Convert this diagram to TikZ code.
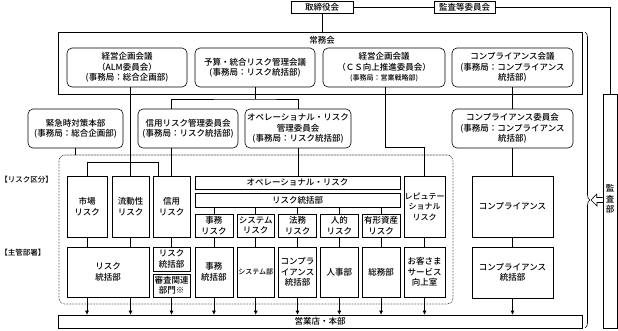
\documentclass[tikz,border=0pt]{standalone}
\usepackage{fontspec}
\setmainfont{Noto Sans CJK JP}[UprightFont={* Medium}]
\usetikzlibrary{arrows.meta, calc, decorations.pathreplacing}

\begin{document}
\begin{tikzpicture}[
        x=1pt, y=-1pt,
        line width=0.6pt,
        font=\fontsize{8.5}{10.5}\selectfont,
        >={Latex[length=4pt,width=4pt]},
        box/.style={draw, align=center, inner sep=1pt},
        com/.style={draw, rounded corners=5pt, align=center, inner sep=1pt, minimum height=39pt},
        area/.style={draw, dash pattern=on 0.6pt off 0.9pt, rounded corners=6pt},
        lbl/.style={font=\fontsize{7.5}{9}\selectfont, anchor=west, inner sep=0pt}
    ]
        \useasboundingbox (0,0) rectangle (618,330);

        % --- 取締役会・監査等委員会 ---
        \node[box, minimum width=62pt, minimum height=12pt] (board) at (322,7) {取締役会};
        \node[box, minimum width=61pt, minimum height=12pt] (auditcom) at (464.5,7) {監査等委員会};
        \node[box, minimum width=14pt, minimum height=234pt] (kansa) at (610,211) {};
        \node[align=center, inner sep=0pt] (kansalbl) at (610,199) {監\\査\\部};

        % --- 常務会 ---
        \node[box, minimum width=524pt, minimum height=62pt] (jomu) at (320,63) {};
        \node (jomutitle) at (322,40) {常務会};
        \node[com, minimum width=120pt] (alm) at (127,67.5) {経営企画会議\\（ALM委員会）\\(事務局：総合企画部)};
        \node[com, minimum width=120pt] (budget) at (255,67.5) {予算・統合リスク管理会議\\(事務局：リスク統括部)};
        \node[com, minimum width=122pt] (cs) at (384,67.5) {経営企画会議\\（ＣＳ向上推進委員会）\\{\fontsize{7}{9}\selectfont (事務局：営業戦略部)}};
        \node[com, minimum width=121pt] (compmtg) at (512.5,67.5) {コンプライアンス会議\\(事務局：コンプライアンス\\統括部)};

        % --- 委員会 ---
        \node[com, minimum width=95pt] (emerg) at (75.5,128.5) {緊急時対策本部\\(事務局：総合企画部)};
        \node[com, minimum width=100pt] (credcom) at (188,128.5) {信用リスク管理委員会\\(事務局：リスク統括部)};
        \node[com, minimum width=106pt] (opcom) at (298,128.5) {オペレーショナル・リスク\\管理委員会\\(事務局：リスク統括部)};
        \node[com, minimum width=121pt] (compcom) at (512.5,128.5) {コンプライアンス委員会\\(事務局：コンプライアンス\\統括部)};

        % --- リスク区分 ---
        \node[area, minimum width=394pt, minimum height=149pt] (riskarea) at (256,229.5) {};
        \node[lbl] (riskcat) at (0,180) {【リスク区分】};
        \node[box, minimum width=40pt, minimum height=61pt] (market) at (87,206.5) {市場\\リスク};
        \node[box, minimum width=37pt, minimum height=61pt] (liquidity) at (130.5,206.5) {流動性\\リスク};
        \node[box, minimum width=37pt, minimum height=61pt] (credit) at (171.5,206.5) {信用\\リスク};
        \node[box, minimum width=205pt, minimum height=13pt] (ophead) at (297.5,182.5) {オペレーショナル・リスク};
        \node[box, minimum width=205pt, minimum height=14pt] (riskmgmt) at (297.5,200) {リスク統括部};
        \node[box, minimum width=37.8pt, minimum height=23pt] (jimu) at (213.9,225.5) {事務\\リスク};
        \node[box, minimum width=37.8pt, minimum height=23pt] (sys) at (255.7,225.5) {システム\\リスク};
        \node[box, minimum width=37.8pt, minimum height=23pt] (homu) at (297.5,225.5) {法務\\リスク};
        \node[box, minimum width=37.8pt, minimum height=23pt] (jinteki) at (339.3,225.5) {人的\\リスク};
        \node[box, minimum width=37.8pt, minimum height=23pt] (yukei) at (381.1,225.5) {有形資産\\リスク};
        \node[box, minimum width=41pt, minimum height=61pt, inner sep=0pt, font=\fontsize{8}{10.5}\selectfont] (reput) at (424.5,206.5) {レピュテー\\ショナル\\リスク};
        \node[box, minimum width=81pt, minimum height=61pt] (comprisk) at (512.5,206.5) {コンプライアンス};

        % --- 主管部署 ---
        \node[lbl] (deptlbl) at (0,253) {【主管部署】};
        \node[box, minimum width=82pt, minimum height=50pt] (riskdeptA) at (108,272) {リスク\\統括部};
        \node[box, minimum width=37pt, minimum height=24pt] (riskdeptB) at (171.5,259) {リスク\\統括部};
        \node[box, minimum width=37pt, minimum height=23pt] (shinsa) at (171.5,285.5) {審査関連\\部門※};
        \node[box, minimum width=37.8pt, minimum height=50pt] (jimudept) at (213.9,272) {事務\\統括部};
        \node[box, minimum width=37.8pt, minimum height=50pt, font=\fontsize{7}{9}\selectfont] (sysdept) at (255.7,272) {システム部};
        \node[box, minimum width=37.8pt, minimum height=50pt] (homudept) at (297.5,272) {コンプラ\\イアンス\\統括部};
        \node[box, minimum width=37.8pt, minimum height=50pt] (jinjidept) at (339.3,272) {人事部};
        \node[box, minimum width=37.8pt, minimum height=50pt] (somudept) at (381.1,272) {総務部};
        \node[box, minimum width=41pt, minimum height=50pt] (okyaku) at (424.5,272) {お客さま\\サービス\\向上室};
        \node[box, minimum width=81pt, minimum height=51pt] (compdept) at (512.5,272.5) {コンプライアンス\\統括部};

        \node[box, minimum width=524pt, minimum height=13pt] (eigyo) at (320,321.5) {営業店・本部};

        % --- 上位の接続 ---
        \draw (board) -- (auditcom);
        \draw (auditcom) -| (kansa);
        \draw (board.south) -- (board.south |- jomu.north);

        \draw (liquidity.north |- alm.south) -- (liquidity.north);
        \coordinate (almbar) at (158,162);
        \draw (market.north) |- (almbar) -- (almbar |- credit.north);

        \coordinate (budbar) at (255,99);
        \draw (budget.south) -- (budbar);
        \draw (credit.north |- credcom.north) |- (budbar) -| (opcom.north);
        \draw (credit.north |- credcom.south) -- (credit.north);
        \draw (opcom.south) -- (opcom.south |- ophead.north);

        \coordinate (csbend) at (385,147);
        \draw (cs.south -| csbend) -- (csbend) -| (reput.north);

        \draw (emerg.south) -- (emerg.south |- riskarea.north);

        \draw (compmtg) -- (compcom);
        \draw (compcom) -- (comprisk);
        \draw (comprisk) -- (compdept);

        % --- リスク統括部 → 各リスク ---
        \draw (riskmgmt.south -| jimu) -- (jimu.north);
        \draw (riskmgmt.south -| sys) -- (sys.north);
        \draw (riskmgmt.south -| homu) -- (homu.north);
        \draw (riskmgmt.south -| jinteki) -- (jinteki.north);
        \draw (riskmgmt.south -| yukei) -- (yukei.north);

        % --- リスク区分 → 主管部署 ---
        \draw (market.south) -- (market.south |- riskdeptA.north);
        \draw (liquidity.south) -- (liquidity.south |- riskdeptA.north);
        \draw (credit) -- (riskdeptB);
        \draw (jimu) -- (jimudept);
        \draw (sys) -- (sysdept);
        \draw (homu) -- (homudept);
        \draw (jinteki) -- (jinjidept);
        \draw (yukei) -- (somudept);
        \draw (reput) -- (okyaku);

        % --- 主管部署 → 営業店・本部 ---
        \draw[->] (market.south |- riskdeptA.south) -- (market.south |- eigyo.north);
        \draw[->] (liquidity.south |- riskdeptA.south) -- (liquidity.south |- eigyo.north);
        \draw[->] (shinsa) -- (shinsa |- eigyo.north);
        \draw[->] (jimudept) -- (jimudept |- eigyo.north);
        \draw[->] (sysdept) -- (sysdept |- eigyo.north);
        \draw[->] (homudept) -- (homudept |- eigyo.north);
        \draw[->] (jinjidept) -- (jinjidept |- eigyo.north);
        \draw[->] (somudept) -- (somudept |- eigyo.north);
        \draw[->] (okyaku) -- (okyaku |- eigyo.north);
        \draw[->] (compdept) -- (compdept |- eigyo.north);

        % --- 監査部 ---
        \draw[decorate, decoration={brace, amplitude=5pt, aspect=0.5676}] (585,32) -- (585,328);
        \coordinate (audtip) at (591,200);
        \draw[fill=white] (kansa.west |- audtip) ++(0,-2.5) -- ++(-6,0) -- ++(0,-3.5) -- (audtip) -- ++(6,6) -- ++(0,-3.5) -- ++(6,0);
    \end{tikzpicture}
\end{document}
